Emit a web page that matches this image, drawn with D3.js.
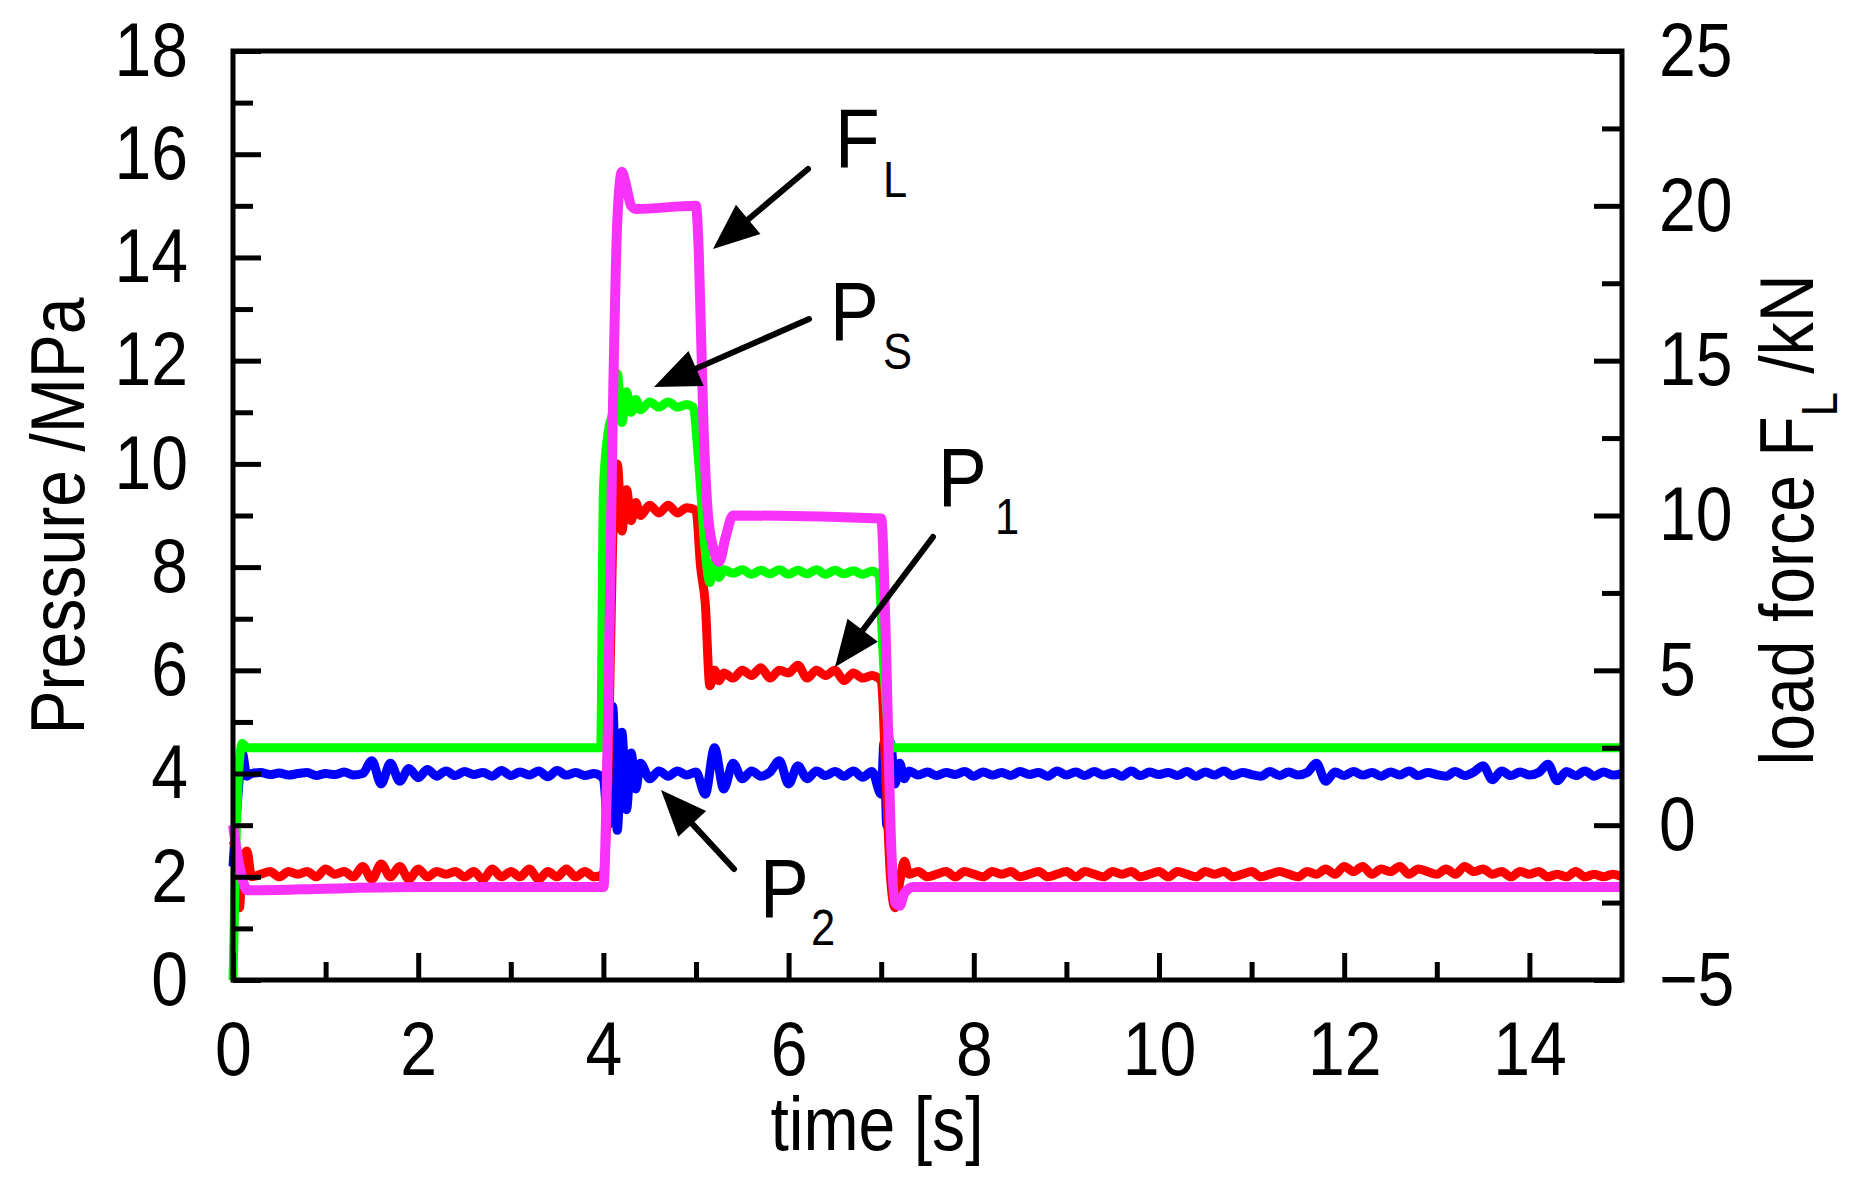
<!DOCTYPE html>
<html>
<head>
<meta charset="utf-8">
<script src="https://cdn.jsdelivr.net/npm/d3@7"></script>
<style>
  body { margin: 0; background: #fff; }
  text { font-family: "Liberation Sans", Arial, sans-serif; fill: #000; }
</style>
</head>
<body>
<svg id="chart" width="1862" height="1190"></svg>
<script>
// ---- data ----
// Ps, supply pressure (MPa)
var psPoints = [[0,0],[0.03,2.5],[0.06,4.0],[0.1,4.58],[0.15,4.5],[3.97,4.5],[4.0,9.5],[4.05,10.6],[4.1,11.0],
  [4.15,11.75],[4.2,10.8],[4.25,11.4],[4.3,11.0],[4.35,11.25],[4.4,11.05],[4.5,11.2],[4.6,11.1],[4.7,11.2],
  [4.8,11.1],[4.9,11.15],[4.97,11.1],[5.03,10.0],[5.1,8.3],[5.15,7.7],[5.2,8.1],[5.25,7.8],[5.3,7.95],
  [5.4,7.88],[5.5,7.95],[5.6,7.86],[5.7,7.94],[5.8,7.87],[5.9,7.95],[6.0,7.86],[6.1,7.94],[6.2,7.87],
  [6.3,7.95],[6.4,7.86],[6.5,7.94],[6.6,7.87],[6.7,7.93],[6.8,7.86],[6.9,7.92],[6.97,7.85],[7.03,6.0],
  [7.08,4.8],[7.12,4.5],[15,4.5]];

// P1 (MPa)
var p1Start = [[0,2.7],[0.04,2.4],[0.07,1.4],[0.1,2.3],[0.15,2.5],[0.2,2.0]];
var p1Low1 = [2.05,2.1,2.0,2.1,2.05,2.1,2.0,2.15,2.05,2.1,2.0,2.2,1.95,2.25,2.0,2.2,1.95,2.15,2.0,2.1,
  2.05,2.1,2.0,2.1,1.95,2.15,2.0,2.1,2.0,2.15,1.95,2.1,2.0,2.15,2.0,2.1,2.0];          // 0.3 .. 3.9
var p1Rise = [[4.0,2.05],[4.05,4.0],[4.1,8.5],[4.15,10.0],[4.2,8.7],[4.25,9.5],[4.3,8.9],[4.35,9.25],[4.4,9.0]];
var p1High = [9.2,9.05,9.2,9.05,9.15];                                                  // 4.5 .. 4.9
var p1Drop = [[5.0,9.1],[5.05,8.0],[5.1,7.3],[5.15,5.7],[5.2,6.0],[5.25,5.8]];
var p1Mid = [5.95,5.85,6.0,5.9,6.05,5.85,6.0,5.95,6.1,5.85,6.0,5.9,6.0,5.8,5.95,5.85,5.9]; // 5.3 .. 6.9
var p1Fall = [[7.0,5.8],[7.05,4.0],[7.1,2.0],[7.15,1.4],[7.2,1.9],[7.25,2.3]];
var p1Low2 = [2.05,2.1,2.0,2.05,2.1,2.0,2.1,2.05,2.0,2.1,2.05,2.1,2.0,2.05,2.1,2.0,2.05,2.1,2.0,2.1,
  2.05,2.0,2.1,2.05,2.1,2.0,2.05,2.1,2.0,2.1,2.05,2.0,2.1,2.05,2.1,2.0,2.05,2.1,2.0,2.05,
  2.1,2.05,2.0,2.1,2.05,2.15,2.05,2.2,2.1,2.2,2.05,2.15,2.1,2.2,2.05,2.15,2.1,2.05,2.15,2.05,
  2.2,2.1,2.15,2.05,2.1,2.0,2.1,2.05,2.1,2.0,2.05,2.0,2.1,2.0,2.05,2.0,2.05,2.0];          // 7.3 .. 15.0

// P2 (MPa)
var p2Start = [[0,2.2],[0.05,3.5],[0.1,4.4],[0.15,3.95],[0.2,4.0]];
var p2Low1 = [4.02,3.98,4.01,3.97,4.0,4.02,3.96,4.0,3.98,4.03,3.97,4.0,4.25,3.8,4.2,3.85,4.1,3.92,4.08,3.95,
  4.05,3.96,4.04,3.98,4.02,3.95,4.06,3.96,4.03,3.97,4.05,3.94,4.06,3.97,4.02,3.96,4.0];      // 0.3 .. 3.9
var p2Burst1 = [[4.0,3.9],[4.05,3.0],[4.1,5.3],[4.15,2.9],[4.2,4.8],[4.25,3.3],[4.3,4.4],[4.35,3.7],
  [4.4,4.2],[4.5,3.9],[4.6,4.05]];
var p2Mid = [3.95,4.05,3.97,4.03,3.6,4.5,3.7,4.2,3.9,4.05,3.95,4.03,4.25,3.8,4.15,3.9,4.05,3.96,4.04,3.95,
  4.05,3.93,4.04];                                                                        // 4.7 .. 6.9
var p2Burst2 = [[7.0,3.6],[7.03,4.6],[7.06,3.0],[7.1,4.6],[7.15,3.8],[7.2,4.2],[7.25,3.9]];
var p2Low2 = [4.05,3.97,4.03,3.96,4.02,3.98,4.04,3.95,4.03,3.97,4.02,3.96,4.04,3.98,4.02,3.95,4.05,3.97,4.03,3.96,
  4.04,3.97,4.02,3.95,4.05,3.96,4.03,3.98,4.02,3.96,4.04,3.95,4.03,3.97,4.05,3.96,4.02,3.98,3.95,4.04,
  3.96,4.03,3.97,4.02,4.2,3.85,4.03,3.96,4.04,3.97,4.02,3.95,4.03,3.97,4.05,3.96,4.02,3.98,3.95,4.04,
  3.96,4.03,4.15,3.88,4.05,3.96,4.03,3.97,4.02,4.18,3.86,4.04,3.96,4.05,3.95,4.03,3.97,4.0];      // 7.3 .. 15.0

// FL, load force (kN, right axis)
var flPoints = [[0,0],[0.05,-1.0],[0.1,-1.7],[0.15,-2.1],[0.3,-2.1],[1,-2.05],[2,-2.0],[4.0,-2.0],[4.05,3.5],
  [4.1,13],[4.15,19.5],[4.2,21.1],[4.25,20.6],[4.3,20.0],[4.35,19.9],[5.0,20],[5.03,18.5],[5.08,13],
  [5.13,10],[5.2,8.8],[5.25,8.5],[5.32,9.3],[5.4,10],[7.0,9.9],[7.05,6],[7.1,0],[7.15,-2.5],[7.2,-2.6],
  [7.25,-2.2],[7.35,-2.0],[15,-2.0]];

var xTicks = [0, 2, 4, 6, 8, 10, 12, 14];
var yLeftTicks = [0, 2, 4, 6, 8, 10, 12, 14, 16, 18];
var yRightTicks = [-5, 0, 5, 10, 15, 20, 25];

// build a series from fixed pairs and evenly spaced runs (step 0.1 s)
function run(t0, values) {
    return values.map(function (v, i) { return [+(t0 + i * 0.1).toFixed(2), v]; });
}
var p1Points = [].concat(p1Start, run(0.3, p1Low1), p1Rise, run(4.5, p1High), p1Drop,
    run(5.3, p1Mid), p1Fall, run(7.3, p1Low2));
var p2Points = [].concat(p2Start, run(0.3, p2Low1), p2Burst1, run(4.7, p2Mid), p2Burst2, run(7.3, p2Low2));

// ---- layout ----
var plotLeft = 233, plotRight = 1622, plotTop = 51, plotBottom = 980;
var squeeze = 0.87;   // the original type is a bit condensed

var svg = d3.select("#chart");
var x = d3.scaleLinear().domain([0, 15]).range([plotLeft, plotRight]);
var y = d3.scaleLinear().domain([0, 18]).range([plotBottom, plotTop]);
var y2 = d3.scaleLinear().domain([-5, 25]).range([plotBottom, plotTop]);

function condense(sel) {
    sel.selectAll("text").each(function () {
        var t = d3.select(this);
        var tx = +t.attr("x") || 0;
        t.attr("x", 0).attr("transform", "translate(" + tx + ",0) scale(" + squeeze + ",1)");
    });
}

function styleAxis(g) {
    g.select(".domain").remove();
    g.selectAll("line").attr("stroke", "#000").attr("stroke-width", 5);
    g.selectAll("text").attr("font-size", 76).attr("font-family", "Liberation Sans, Arial, sans-serif");
}

// ---- lines ----
var linePress = d3.line().x(function (d) { return x(d[0]); }).y(function (d) { return y(d[1]); })
    .curve(d3.curveMonotoneX);
var lineForce = d3.line().x(function (d) { return x(d[0]); }).y(function (d) { return y2(d[1]); })
    .curve(d3.curveMonotoneX);

var plot = svg.append("g");
plot.append("path").datum(p2Points).attr("d", linePress).attr("fill", "none")
    .attr("stroke", "#0000ff").attr("stroke-width", 9).attr("stroke-linejoin", "round");
plot.append("path").datum(p1Points).attr("d", linePress).attr("fill", "none")
    .attr("stroke", "#ff0000").attr("stroke-width", 9).attr("stroke-linejoin", "round");
plot.append("path").datum(psPoints).attr("d", linePress).attr("fill", "none")
    .attr("stroke", "#00ff00").attr("stroke-width", 9).attr("stroke-linejoin", "round");
plot.append("path").datum(flPoints).attr("d", lineForce).attr("fill", "none")
    .attr("stroke", "#f932f9").attr("stroke-width", 10).attr("stroke-linejoin", "round");

// minor ticks
svg.append("g").attr("transform", "translate(0," + plotBottom + ")")
    .call(d3.axisBottom(x).tickValues(d3.range(1, 15, 2)).tickSize(-18).tickFormat(""))
    .call(styleAxis);
svg.append("g").attr("transform", "translate(" + plotLeft + ",0)")
    .call(d3.axisLeft(y).tickValues(d3.range(1, 18, 2)).tickSize(-20).tickFormat(""))
    .call(styleAxis);
svg.append("g").attr("transform", "translate(" + plotRight + ",0)")
    .call(d3.axisRight(y2).tickValues([-2.5, 2.5, 7.5, 12.5, 17.5, 22.5]).tickSize(-20).tickFormat(""))
    .call(styleAxis);

// major ticks with labels
svg.append("g").attr("transform", "translate(0," + plotBottom + ")")
    .call(d3.axisBottom(x).tickValues(xTicks).tickSize(-27).tickPadding(41).tickFormat(d3.format("d")))
    .call(styleAxis).call(condense);
svg.append("g").attr("transform", "translate(" + plotLeft + ",0)")
    .call(d3.axisLeft(y).tickValues(yLeftTicks).tickSize(-28).tickPadding(45).tickFormat(d3.format("d")))
    .call(styleAxis).call(condense);
svg.append("g").attr("transform", "translate(" + plotRight + ",0)")
    .call(d3.axisRight(y2).tickValues(yRightTicks).tickSize(-28).tickPadding(37).tickFormat(d3.format("d")))
    .call(styleAxis).call(condense);

// frame
svg.append("rect").attr("x", plotLeft).attr("y", plotTop)
    .attr("width", plotRight - plotLeft).attr("height", plotBottom - plotTop)
    .attr("fill", "none").attr("stroke", "#000").attr("stroke-width", 5);

// ---- axis titles ----
function squeezed(px, py, rot) {
    return "translate(" + px + "," + py + ") rotate(" + rot + ") scale(" + squeeze + ",1)";
}
svg.append("text").attr("transform", squeezed(877, 1150, 0)).attr("text-anchor", "middle")
    .attr("font-size", 76).text("time [s]");
svg.append("text").attr("transform", squeezed(84, 516, -90)).attr("text-anchor", "middle")
    .attr("font-size", 76).text("Pressure /MPa");
var rt = svg.append("text").attr("transform", squeezed(1813, 520, -90)).attr("text-anchor", "middle")
    .attr("font-size", 76);
rt.append("tspan").text("load force F");
rt.append("tspan").attr("font-size", 50).attr("dy", 24).text("L");
rt.append("tspan").attr("dy", -24).text(" /kN");

// ---- annotations ----
var labels = [
    { main: "F", sub: "L", x: 835, y: 167, sx: 883, sy: 197, from: [808, 169], to: [713, 249] },
    { main: "P", sub: "S", x: 830, y: 340, sx: 883, sy: 369, from: [809, 319], to: [654, 387] },
    { main: "P", sub: "1", x: 938, y: 506, sx: 995, sy: 534, from: [933, 537], to: [835, 667] },
    { main: "P", sub: "2", x: 760, y: 917, sx: 811, sy: 945, from: [734, 869], to: [661, 790] }
];
labels.forEach(function (a) {
    svg.append("text").attr("transform", squeezed(a.x, a.y, 0)).attr("font-size", 84).text(a.main);
    svg.append("text").attr("transform", squeezed(a.sx, a.sy, 0)).attr("font-size", 50).text(a.sub);
    var dx = a.to[0] - a.from[0], dy = a.to[1] - a.from[1];
    var len = Math.sqrt(dx * dx + dy * dy), ux = dx / len, uy = dy / len;
    var headLen = 46, headW = 19;
    var bx = a.to[0] - ux * headLen, by = a.to[1] - uy * headLen;
    svg.append("line").attr("x1", a.from[0]).attr("y1", a.from[1]).attr("x2", bx + ux * 4).attr("y2", by + uy * 4)
        .attr("stroke", "#000").attr("stroke-width", 6).attr("stroke-linecap", "round");
    svg.append("path").attr("fill", "#000")
        .attr("d", "M" + a.to[0] + "," + a.to[1] +
            "L" + (bx - uy * headW) + "," + (by + ux * headW) +
            "L" + (bx + uy * headW) + "," + (by - ux * headW) + "Z");
});
</script>
</body>
</html>
